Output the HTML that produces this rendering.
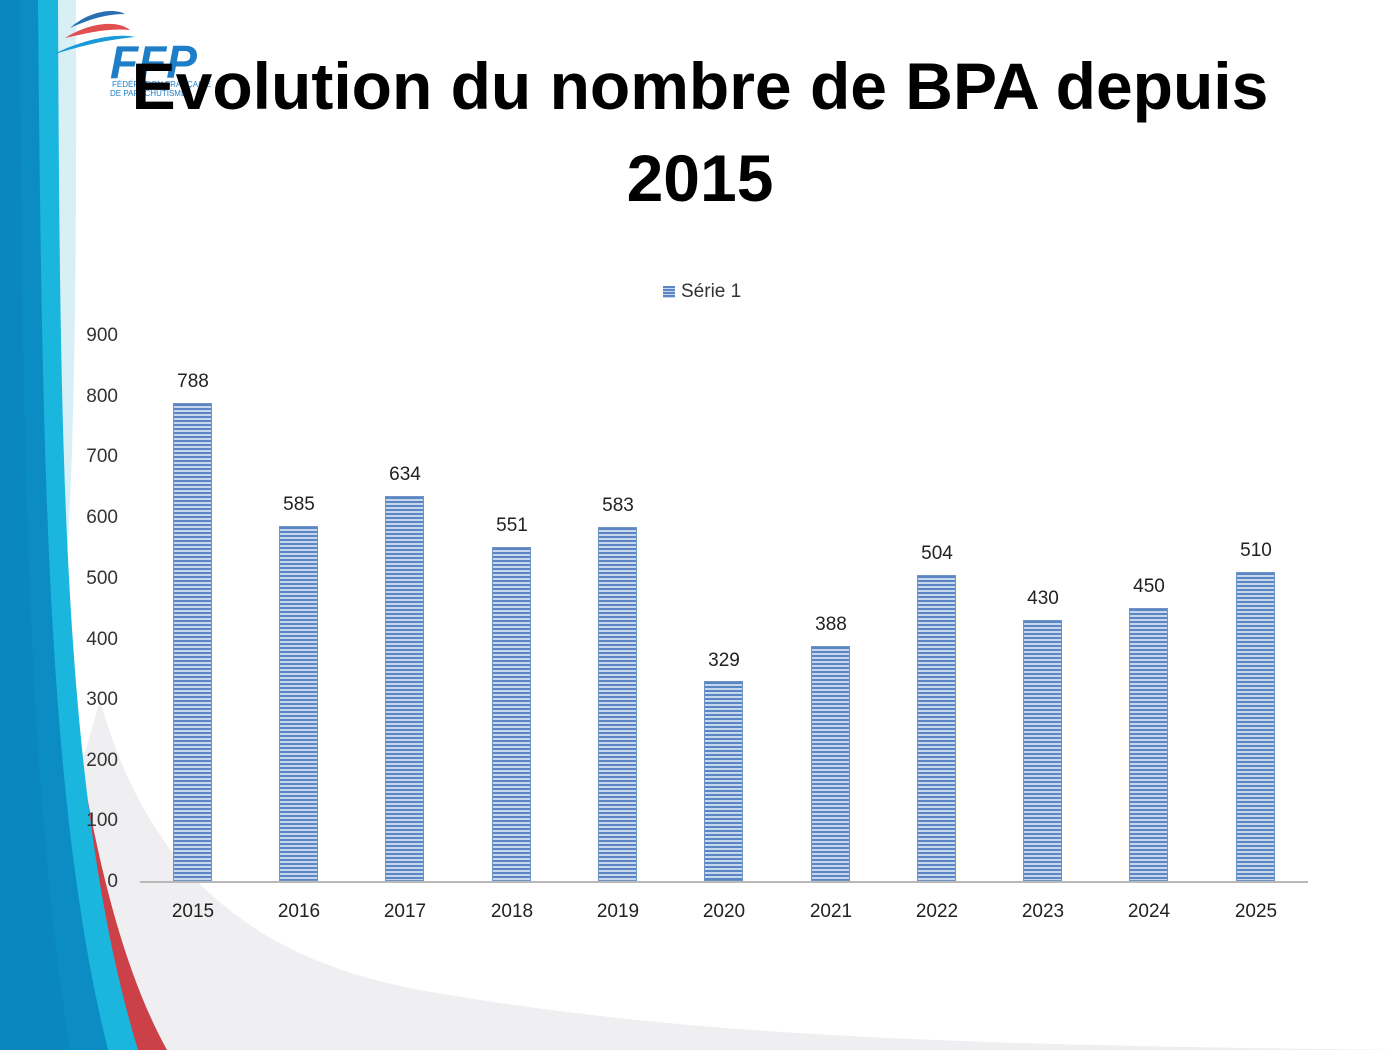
<!DOCTYPE html>
<html><head><meta charset="utf-8"><style>
html,body{margin:0;padding:0;width:1400px;height:1050px;overflow:hidden;background:#fff;font-family:"Liberation Sans","DejaVu Sans",sans-serif;}
.t{position:absolute;left:0;width:1400px;text-align:center;font-weight:bold;font-size:66px;color:#000;}
.lbl{position:absolute;font-size:19px;color:#222;width:80px;text-align:center;}
.yl{position:absolute;font-size:19px;color:#333;width:60px;text-align:right;left:58px;}
.bar{position:absolute;width:39px;border:1px solid #6e94c8;box-sizing:border-box;background:repeating-linear-gradient(to bottom,#5a86c4 0px,#5a86c4 2px,#c6d7ee 2px,#c6d7ee 4px);}
</style></head><body>
<svg width="1400" height="1050" style="position:absolute;left:0;top:0">
<path d="M100,700 C150,880 260,960 420,990 C700,1040 1000,1045 1400,1050 L0,1050 Z" fill="#efeff1"/>
<path d="M0,0 L76,0 C77,300 74,500 62,620 L0,620 Z" fill="#d9eff6"/>
<path d="M0,600 L58,600 C82,800 112,950 167,1050 L0,1050 Z" fill="#cc4048"/>
<path d="M0,0 L58,0 C60,450 62,800 138,1050 L0,1050 Z" fill="#1bb6de"/>
<path d="M0,0 L38,0 C42,450 46,800 108,1050 L0,1050 Z" fill="#0b8dc4"/>
<path d="M0,0 L20,0 C22,450 28,780 70,1050 L0,1050 Z" fill="#0a87bd"/>
<path d="M70,28 C90,10 115,8 125,14 C105,14 88,20 70,28Z" fill="#2a6fb5"/>
<path d="M65,38 C90,22 118,20 130,30 C108,28 88,33 65,38Z" fill="#e05050"/>
<path d="M52,55 C85,38 118,33 135,37 C105,40 80,46 52,55Z" fill="#1a9ad8"/>
<text x="110" y="78" font-family="Liberation Sans" font-weight="bold" font-style="italic" font-size="46" fill="#1e7fc8">FFP</text>
<text x="112" y="87" font-family="Liberation Sans" font-size="8" fill="#1e7fc8">FÉDÉRATION FRANÇAISE</text>
<text x="110" y="96" font-family="Liberation Sans" font-size="8" fill="#1e7fc8">DE PARACHUTISME</text>
<line x1="140" y1="882" x2="1308" y2="882" stroke="#b8b8b8" stroke-width="2"/>
</svg>
<div class="t" style="top:48px;">Evolution du nombre de BPA depuis</div>
<div class="t" style="top:140px;">2015</div>
<div style="position:absolute;left:663px;top:286px;width:12px;height:12px;background:repeating-linear-gradient(to bottom,#5a86c4 0,#5a86c4 2px,#c6d7ee 2px,#c6d7ee 3px);"></div>
<div style="position:absolute;left:681px;top:281px;font-size:19px;color:#333;">Série 1</div>
<div class="yl" style="top:325px">900</div>
<div class="yl" style="top:386px">800</div>
<div class="yl" style="top:446px">700</div>
<div class="yl" style="top:507px">600</div>
<div class="yl" style="top:568px">500</div>
<div class="yl" style="top:629px">400</div>
<div class="yl" style="top:689px">300</div>
<div class="yl" style="top:750px">200</div>
<div class="yl" style="top:810px">100</div>
<div class="yl" style="top:871px">0</div>
<div class="bar" style="left:173px;top:403px;height:478px"></div>
<div class="bar" style="left:279px;top:526px;height:355px"></div>
<div class="bar" style="left:385px;top:496px;height:385px"></div>
<div class="bar" style="left:492px;top:547px;height:334px"></div>
<div class="bar" style="left:598px;top:527px;height:354px"></div>
<div class="bar" style="left:704px;top:681px;height:200px"></div>
<div class="bar" style="left:811px;top:646px;height:235px"></div>
<div class="bar" style="left:917px;top:575px;height:306px"></div>
<div class="bar" style="left:1023px;top:620px;height:261px"></div>
<div class="bar" style="left:1129px;top:608px;height:273px"></div>
<div class="bar" style="left:1236px;top:572px;height:309px"></div>
<div class="lbl" style="left:153px;top:371px">788</div>
<div class="lbl" style="left:259px;top:494px">585</div>
<div class="lbl" style="left:365px;top:464px">634</div>
<div class="lbl" style="left:472px;top:515px">551</div>
<div class="lbl" style="left:578px;top:495px">583</div>
<div class="lbl" style="left:684px;top:650px">329</div>
<div class="lbl" style="left:791px;top:614px">388</div>
<div class="lbl" style="left:897px;top:543px">504</div>
<div class="lbl" style="left:1003px;top:588px">430</div>
<div class="lbl" style="left:1109px;top:576px">450</div>
<div class="lbl" style="left:1216px;top:540px">510</div>
<div class="lbl" style="left:153px;top:901px">2015</div>
<div class="lbl" style="left:259px;top:901px">2016</div>
<div class="lbl" style="left:365px;top:901px">2017</div>
<div class="lbl" style="left:472px;top:901px">2018</div>
<div class="lbl" style="left:578px;top:901px">2019</div>
<div class="lbl" style="left:684px;top:901px">2020</div>
<div class="lbl" style="left:791px;top:901px">2021</div>
<div class="lbl" style="left:897px;top:901px">2022</div>
<div class="lbl" style="left:1003px;top:901px">2023</div>
<div class="lbl" style="left:1109px;top:901px">2024</div>
<div class="lbl" style="left:1216px;top:901px">2025</div>
</body></html>
